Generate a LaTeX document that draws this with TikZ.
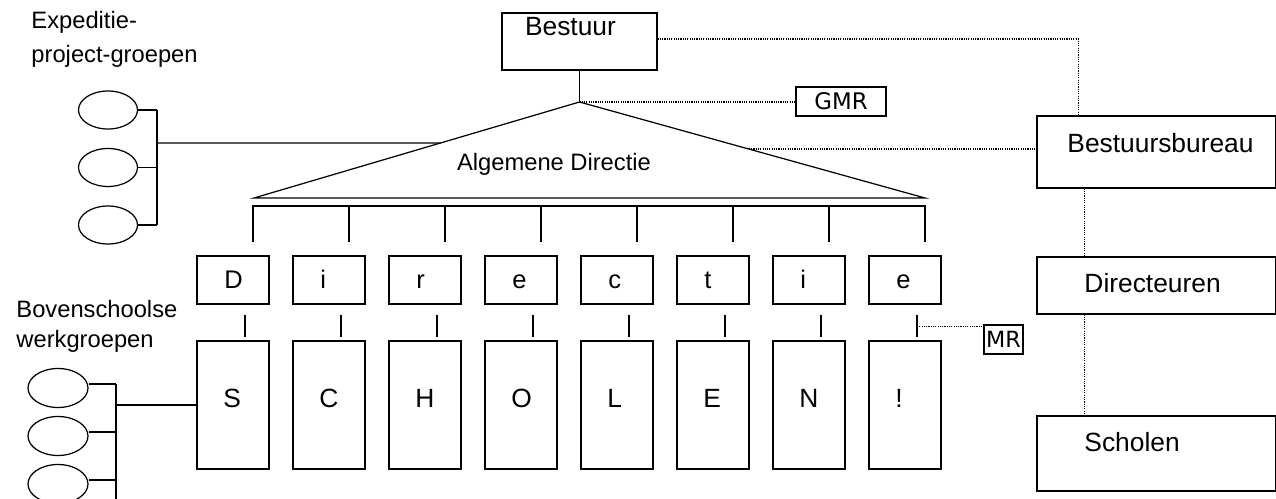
\documentclass[tikz,border=0pt]{standalone}
\usepackage{fontspec}
\setmainfont{Liberation Sans}
\newfontfamily\gmrfont{DejaVu Sans}
\usetikzlibrary{positioning, shapes.geometric, calc}

\begin{document}
\begin{tikzpicture}[
  x=0.02cm, y=-0.02cm,
  line width=0.7pt,
  box/.style = {rectangle, draw, inner sep=0pt},
  letterbox/.style = {box, minimum width=1.44cm, minimum height=0.96cm},
  schoolbox/.style = {box, minimum width=1.44cm, minimum height=2.56cm},
  rightbox/.style = {box, minimum width=4.77cm},
  group/.style = {ellipse, draw, inner sep=0pt, minimum width=1.18cm, minimum height=0.76cm},
  big/.style = {font=\fontsize{15}{18}\selectfont},
  small/.style = {font=\fontsize{13.5}{18}\selectfont},
  link/.style = {line width=0.9pt, dash pattern=on 0.65pt off 0.65pt}
  ]
  \useasboundingbox (0,0) rectangle (1276,499);

  % Bestuur en algemene directie
  \node[box, minimum width=3.1cm, minimum height=1.14cm] (bestuur) at (579.5,41.5) {};
  \node[big, anchor=base] (bestuur-txt) at (570.5,36) {Bestuur};
  \coordinate (top) at (579.5,102);
  \coordinate (left) at (254,198);
  \coordinate (right) at (925,198);
  \draw (bestuur.south) -- (top);
  \draw (left) -- (top) -- (right) -- cycle;
  \node[small, anchor=base] (ad-txt) at (554,171) {Algemene Directie};
  \node[box, minimum width=1.8cm, minimum height=0.58cm, font=\gmrfont\fontsize{13}{15}\selectfont] (gmr) at (841,101.5) {GMR};
  \draw[link] (top) -- (top -| gmr.west);

  % Balk
  \coordinate (barL) at (254,206);
  \coordinate (barR) at (925,206);
  \draw (barL) -- (barR);

  % Directie en scholen
  \foreach \l/\s [count=\i from 0] in {D/S, i/C, r/H, e/O, c/L, t/E, i/N, e/!} {
    \node[letterbox] (dir\i) at (233+96*\i,280) {};
    \node[anchor=base west, font=\fontsize{14.5}{16}\selectfont] (dir-txt\i) at (218+96*\i,289) {\l};
    \node[schoolbox] (school\i) at (233+96*\i,405) {};
    \node[big, anchor=base west] (school-txt\i) at (217+96*\i,408) {\s};
    \draw ([xshift=0.4cm]dir\i.north) ++(0,-13) -- ++(0,-37);
    \draw[shorten <=0.2cm, shorten >=0.06cm] ([xshift=0.24cm]dir\i.south) -- ([xshift=0.24cm]school\i.north);
  }
  \coordinate (mrlink) at ([xshift=0.24cm, yshift=-0.44cm]dir7.south);
  \node[box, minimum width=0.78cm, minimum height=0.58cm, font=\gmrfont\fontsize{12.7}{15}\selectfont] (mr) at (1003.5,339.5) {MR};
  \draw[link] (mrlink) -- (mrlink -| mr.west);

  % Rechterkolom
  \node[rightbox, minimum height=1.44cm] (bureau) at (1156.25,152) {};
  \node[big, anchor=base west] (bureau-txt) at (1061,153) {Bestuursbureau};
  \node[rightbox, minimum height=1.14cm] (dirs) at (1156.25,285.5) {};
  \node[big, anchor=base west] (dirs-txt) at (1078,293) {Directeuren};
  \node[rightbox, minimum height=1.5cm] (scholen) at (1156.25,453.5) {};
  \node[big, anchor=base west] (scholen-txt) at (1078,452) {Scholen};
  \draw[link] ([yshift=0.05cm]bestuur.east) -| ([xshift=0.84cm]bureau.north west);
  \coordinate (adlink) at ($(top)!0.49!(right)$);
  \draw[link] (adlink) -- (adlink -| bureau.west);
  \draw[link] ([xshift=0.96cm]bureau.south west) -- ([xshift=0.96cm]dirs.north west);
  \draw[link] ([xshift=0.96cm]dirs.south west) -- ([xshift=0.96cm]scholen.north west);

  % Expeditie-projectgroepen
  \node[anchor=base west, align=left, font=\fontsize{13.5}{19.3}\selectfont] (eg-txt) at (25,62.7) {Expeditie-\\project-groepen};
  \foreach \i in {1,2,3}
    \node[group] (eg\i) at (108,52.5+57.5*\i) {};
  \coordinate (egbar) at (157,143);
  \foreach \i in {1,2,3}
    \draw (eg\i) -- (eg\i -| egbar);
  \draw (eg1 -| egbar) -- (eg3 -| egbar);
  \draw (egbar) -- ($(left)!0.573!(top)$);

  % Bovenschoolse werkgroepen
  \node[anchor=base west, align=left, font=\fontsize{13.5}{17.6}\selectfont] (wg-txt) at (10,348) {Bovenschoolse\\werkgroepen};
  \foreach \i in {1,2,3}
    \node[group, minimum width=1.2cm, minimum height=0.78cm] (wg\i) at (58,340+48*\i) {};
  \coordinate (wgbar) at (116,405);
  \foreach \i in {1,2,3}
    \draw ([yshift=0.08cm]wg\i.east) -- ([yshift=0.08cm]wg\i.east -| wgbar);
  \draw ([yshift=0.08cm]wg1.east -| wgbar) -- (wg3 -| wgbar) -- ++(0,16);
  \draw (wgbar) -- (school0.west);
\end{tikzpicture}
\end{document}
